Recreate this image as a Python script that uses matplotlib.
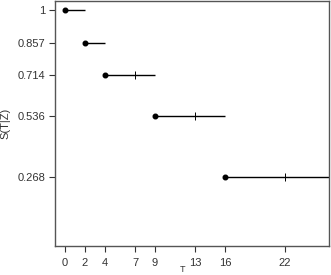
import matplotlib
matplotlib.use("Agg")
import matplotlib.pyplot as plt

# data
starts = [0, 2, 4, 9, 16]
ends = [2, 4, 9, 16, 26.5]
surv = [1.0, 0.857, 0.714, 0.536, 0.268]
cens_t = [7, 13, 22]
cens_s = [0.714, 0.536, 0.268]
xticks = [0, 2, 4, 7, 9, 13, 16, 22]
yticks = [1.0, 0.857, 0.714, 0.536, 0.268]
ylabels = ["1", "0.857", "0.714", "0.536", "0.268"]

plt.rcParams['font.family'] = ['Liberation Sans', 'DejaVu Sans']
fig = plt.figure(figsize=(3.31, 2.75), dpi=100)
ax = fig.add_axes([55/331, 1-246/275, 274/331, 245/275])

for s, e, v in zip(starts, ends, surv):
    ax.plot([s, e], [v, v], color='black', lw=1, solid_capstyle='butt')
ax.plot(starts, surv, 'o', color='black', ms=3.3)
ax.plot(cens_t, cens_s, '|', color='black', ms=6, mew=0.7)

ax.set_xlim(-1, 26.4)
ax.set_ylim(-0.035, 1.04)
ax.set_xticks(xticks)
ax.set_xticklabels([str(t) for t in xticks])
ax.set_yticks(yticks)
ax.set_yticklabels(ylabels)
ax.tick_params(labelsize=8, length=4, width=0.8, colors='#333333', labelcolor='#333333')
ax.tick_params(axis='x', pad=4.5)
ax.tick_params(axis='y', pad=3)
for sp in ax.spines.values():
    sp.set_color('#555555')
    sp.set_linewidth(1)
ax.set_xlabel("T", fontsize=6.5, color='#333333', labelpad=0)
ax.xaxis.set_label_coords(0.467, -0.077)
ax.set_ylabel("Ŝ(T|Z)", fontsize=8, color='#333333', labelpad=5)

fig.savefig("out.png", dpi=100)
